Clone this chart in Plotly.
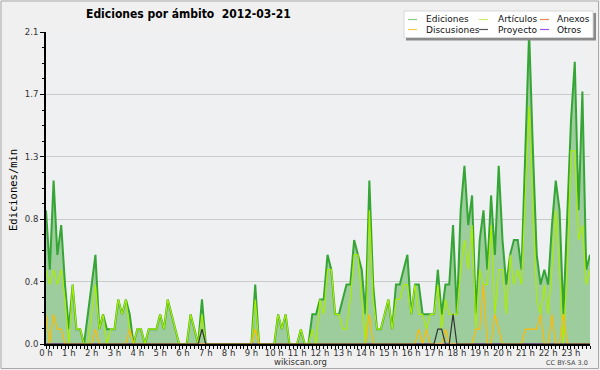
import plotly.graph_objects as go

# 10-minute samples, 2012-03-21, edits per minute
ediciones = [
    0.9, 0.5, 1.1, 0.6, 0.8, 0.4, 0.1, 0.4, 0.1, 0.1, 0.0, 0.2,
    0.4, 0.6, 0.1, 0.2, 0.1, 0.1, 0.1, 0.3, 0.2, 0.3, 0.2, 0.0,
    0.1, 0.1, 0.0, 0.1, 0.1, 0.1, 0.2, 0.1, 0.3, 0.2, 0.1, 0.0,
    0.0, 0.0, 0.2, 0.1, 0.0, 0.3, 0.0, 0.0, 0.0, 0.0, 0.0, 0.0,
    0.0, 0.0, 0.0, 0.0, 0.0, 0.0, 0.0, 0.4, 0.0, 0.0, 0.0, 0.0,
    0.0, 0.2, 0.1, 0.2, 0.0, 0.0, 0.0, 0.1, 0.0, 0.0, 0.2, 0.2,
    0.3, 0.3, 0.6, 0.5, 0.2, 0.2, 0.3, 0.4, 0.4, 0.7, 0.6, 0.5,
    0.2, 1.1, 0.4, 0.1, 0.1, 0.2, 0.3, 0.1, 0.4, 0.4, 0.5, 0.6,
    0.2, 0.4, 0.4, 0.2, 0.2, 0.2, 0.2, 0.5, 0.2, 0.4, 0.4, 0.8,
    0.2, 0.9, 1.2, 0.8, 1.0, 0.2, 0.7, 0.9, 0.5, 1.0, 0.6, 1.2,
    0.7, 0.4, 0.6, 0.7, 0.7, 0.5, 1.3, 2.1, 1.3, 0.6, 0.4, 0.5,
    0.4, 0.8, 1.1, 0.9, 0.2, 0.9, 1.5, 1.9, 0.9, 1.7, 0.5, 0.6,
]
articulos = [
    0.5, 0.4, 0.5, 0.4, 0.5, 0.3, 0.0, 0.4, 0.1, 0.1, 0.0, 0.0,
    0.2, 0.4, 0.1, 0.2, 0.0, 0.1, 0.1, 0.3, 0.2, 0.3, 0.1, 0.0,
    0.1, 0.1, 0.0, 0.1, 0.1, 0.1, 0.2, 0.1, 0.3, 0.2, 0.1, 0.0,
    0.0, 0.0, 0.2, 0.1, 0.0, 0.2, 0.0, 0.0, 0.0, 0.0, 0.0, 0.0,
    0.0, 0.0, 0.0, 0.0, 0.0, 0.0, 0.0, 0.3, 0.0, 0.0, 0.0, 0.0,
    0.0, 0.2, 0.1, 0.2, 0.0, 0.0, 0.0, 0.1, 0.0, 0.0, 0.1, 0.0,
    0.3, 0.2, 0.5, 0.5, 0.2, 0.2, 0.1, 0.1, 0.3, 0.6, 0.6, 0.3,
    0.0, 0.9, 0.3, 0.1, 0.1, 0.2, 0.3, 0.1, 0.3, 0.3, 0.4, 0.4,
    0.2, 0.4, 0.2, 0.2, 0.1, 0.2, 0.2, 0.4, 0.1, 0.3, 0.2, 0.2,
    0.2, 0.5, 0.7, 0.5, 0.8, 0.1, 0.5, 0.4, 0.4, 0.8, 0.2, 0.5,
    0.5, 0.2, 0.6, 0.4, 0.5, 0.4, 1.0, 1.6, 0.9, 0.3, 0.2, 0.4,
    0.2, 0.5, 0.9, 0.5, 0.0, 0.5, 1.3, 1.3, 0.7, 0.8, 0.4, 0.5,
]
discusiones = [
    0.2, 0.0, 0.2, 0.1, 0.1, 0.0, 0.0, 0.0, 0.0, 0.0, 0.0, 0.0,
    0.0, 0.1, 0.0, 0.0, 0.0, 0.0, 0.0, 0.0, 0.0, 0.0, 0.1, 0.0,
    0.0, 0.0, 0.0, 0.0, 0.0, 0.0, 0.0, 0.0, 0.0, 0.0, 0.0, 0.0,
    0.0, 0.0, 0.0, 0.0, 0.0, 0.0, 0.0, 0.0, 0.0, 0.0, 0.0, 0.0,
    0.0, 0.0, 0.0, 0.0, 0.0, 0.0, 0.0, 0.1, 0.0, 0.0, 0.0, 0.0,
    0.0, 0.0, 0.0, 0.0, 0.0, 0.0, 0.0, 0.0, 0.0, 0.0, 0.0, 0.0,
    0.0, 0.0, 0.0, 0.0, 0.0, 0.0, 0.0, 0.0, 0.0, 0.0, 0.0, 0.0,
    0.0, 0.2, 0.0, 0.0, 0.0, 0.0, 0.0, 0.0, 0.0, 0.0, 0.0, 0.0,
    0.0, 0.0, 0.1, 0.0, 0.1, 0.0, 0.0, 0.0, 0.0, 0.1, 0.0, 0.0,
    0.0, 0.0, 0.0, 0.0, 0.0, 0.1, 0.1, 0.4, 0.0, 0.0, 0.2, 0.1,
    0.0, 0.0, 0.0, 0.0, 0.0, 0.0, 0.1, 0.1, 0.1, 0.1, 0.2, 0.0,
    0.0, 0.2, 0.0, 0.0, 0.2, 0.0, 0.0, 0.0, 0.0, 0.0, 0.0, 0.0,
]
proyecto = [0.0] * 41 + [0.1] + [0.0] * 61 + [0.1, 0.1, 0.0, 0.0, 0.2] + [0.0] * 36
anexos = [0.0] * 144
otros = [0.0] * 144

hours = [i / 6 for i in range(len(ediciones))]
hour_ticks = list(range(24))
hour_labels = [f"{h} h" for h in hour_ticks]
y_ticks = [0.0, 0.42, 0.84, 1.26, 1.68, 2.1]
y_labels = ["0.0", "0.4", "0.8", "1.3", "1.7", "2.1"]

legend_names = ["Ediciones", "Artículos", "Anexos", "Discusiones", "Proyecto", "Otros"]
legend_colors = ["#88cc88", "#ccee66", "#ee8855", "#eecc55", "#555555", "#9955ee"]

C_FILL = "#9dcc9d"
C_TOTAL = "#35a535"
C_ART = "#aaee00"
C_DISC = "#ffbb00"
C_PROY = "#333333"
C_ANEX = "#ff7733"
C_OTROS = "#9944ff"

W, H = 600, 370
L, R, T, B = 46, 10, 32, 26
PW, PH = W - L - R, H - T - B


def px(x):
    return (x - L) / PW


def py(y):
    return (H - B - y) / PH


fig = go.Figure()
fig.add_trace(go.Scatter(x=hours, y=ediciones, mode="lines", fill="tozeroy",
                         fillcolor=C_FILL, line=dict(color=C_TOTAL, width=2),
                         name="Ediciones", showlegend=False))
fig.add_trace(go.Scatter(x=hours, y=anexos, mode="lines",
                         line=dict(color=C_ANEX, width=1), name="Anexos", showlegend=False))
fig.add_trace(go.Scatter(x=hours, y=otros, mode="lines",
                         line=dict(color=C_OTROS, width=1), name="Otros", showlegend=False))
fig.add_trace(go.Scatter(x=hours, y=articulos, mode="lines",
                         line=dict(color=C_ART, width=1.2), name="Artículos", showlegend=False))
fig.add_trace(go.Scatter(x=hours, y=discusiones, mode="lines",
                         line=dict(color=C_DISC, width=1.2), name="Discusiones", showlegend=False))
fig.add_trace(go.Scatter(x=hours, y=proyecto, mode="lines",
                         line=dict(color=C_PROY, width=1.2), name="Proyecto", showlegend=False))

shapes = []
annotations = []
# outer frame
shapes.append(dict(type="rect", xref="paper", yref="paper",
                   x0=px(1), x1=px(598.5), y0=py(1), y1=py(368.5),
                   line=dict(color="#a8a8a8", width=1), layer="below"))
# legend box with shadow
shapes.append(dict(type="rect", xref="paper", yref="paper",
                   x0=px(406), x1=px(596), y0=py(13), y1=py(40.5),
                   line=dict(width=0), fillcolor="#8a8a8a", layer="above"))
shapes.append(dict(type="rect", xref="paper", yref="paper",
                   x0=px(404), x1=px(593), y0=py(11), y1=py(37.5),
                   line=dict(color="#d8d8d8", width=1), fillcolor="#ffffff", layer="above"))
cols_line = [408, 479, 540]
cols_text = [424, 496, 555]
rows = [19.5, 29.5]
for k, (name, col) in enumerate(zip(legend_names, legend_colors)):
    r, c = divmod(k, 3)
    yy = rows[r]
    shapes.append(dict(type="line", xref="paper", yref="paper",
                       x0=px(cols_line[c]), x1=px(cols_line[c] + 9),
                       y0=py(yy), y1=py(yy), line=dict(color=col, width=1.2), layer="above"))
    annotations.append(dict(text=name, xref="paper", yref="paper",
                            x=px(cols_text[c]), y=py(yy), xanchor="left", yanchor="middle",
                            showarrow=False, font=dict(family="DejaVu Sans", size=9, color="#111111")))

annotations.append(dict(text="<b>Ediciones por ámbito  2012-03-21</b>", xref="paper", yref="paper",
                        x=px(188), y=py(14), xanchor="center", yanchor="middle", showarrow=False,
                        font=dict(family="DejaVu Sans Condensed, DejaVu Sans", size=12, color="#000000")))
annotations.append(dict(text="Ediciones/min", xref="paper", yref="paper",
                        x=px(13), y=py(190), xanchor="center", yanchor="middle", showarrow=False,
                        textangle=-90,
                        font=dict(family="DejaVu Sans Mono", size=10.5, color="#000000")))
annotations.append(dict(text="wikiscan.org", xref="paper", yref="paper",
                        x=px(300), y=py(362), xanchor="center", yanchor="middle", showarrow=False,
                        font=dict(family="DejaVu Sans", size=8.5, color="#333333")))
annotations.append(dict(text="CC BY-SA 3.0", xref="paper", yref="paper",
                        x=px(590), y=py(362.5), xanchor="right", yanchor="middle", showarrow=False,
                        font=dict(family="DejaVu Sans", size=6.5, color="#444444")))

fig.update_layout(
    width=W, height=H, autosize=False,
    margin=dict(l=L, r=R, t=T, b=B, pad=0),
    paper_bgcolor="#f0f0f0", plot_bgcolor="#eef0f2",
    shapes=shapes, annotations=annotations, showlegend=False,
    xaxis=dict(range=[0, hours[-1]], tickmode="array", tickvals=hour_ticks, ticktext=hour_labels,
               ticks="outside", ticklen=3, tickcolor="#000000", tickwidth=1,
               ticklabelstandoff=-3,
               minor=dict(tickmode="linear", tick0=0, dtick=1 / 6, ticks="outside",
                          ticklen=3, tickcolor="#000000", tickwidth=1, showgrid=False),
               showline=True, linecolor="#000000", linewidth=2, showgrid=False, zeroline=False,
               tickfont=dict(family="DejaVu Sans", size=8.5, color="#333333"), fixedrange=True),
    yaxis=dict(range=[0, 2.1], tickmode="array", tickvals=y_ticks, ticktext=y_labels,
               ticks="outside", ticklen=4, tickcolor="#000000", tickwidth=1,
               minor=dict(tickmode="linear", tick0=0, dtick=0.105, ticks="outside",
                          ticklen=2, tickcolor="#000000", tickwidth=1, showgrid=False),
               showline=True, linecolor="#000000", linewidth=2, showgrid=True,
               gridcolor="#cacaca", gridwidth=1, zeroline=False,
               tickfont=dict(family="DejaVu Sans", size=8.5, color="#333333"), fixedrange=True),
)

fig.write_html("out.html", config={"displayModeBar": False},
               post_script="document.body.style.margin='0';document.body.style.overflow='hidden';")
